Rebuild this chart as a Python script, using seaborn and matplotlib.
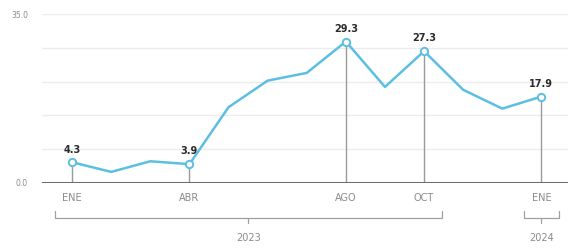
import pandas as pd
import matplotlib.pyplot as plt
import seaborn as sns

# Monthly values, ENE 2023 .. ENE 2024
months = ["ENE", "FEB", "MAR", "ABR", "MAY", "JUN", "JUL", "AGO", "SEP", "OCT", "NOV", "DIC", "ENE"]
values = [4.3, 2.3, 4.5, 3.9, 15.7, 21.2, 22.8, 29.3, 19.9, 27.3, 19.3, 15.4, 17.9]
labeled_idx = [0, 3, 7, 9, 12]
years = ["2023", "2024"]

df = pd.DataFrame({"idx": range(len(values)), "value": values})

sns.set_style("white")
plt.rcParams['font.family'] = ['DejaVu Sans']

fig = plt.figure(figsize=(5.79, 2.48), dpi=100)
ax = fig.add_axes([42 / 579, 1 - 183 / 248, (568 - 42) / 579, (183 - 14) / 248])

line_color = "#5cbfe2"
gray = "#8a8a8a"

# gridlines
for g in [7, 14, 21, 28, 35]:
    ax.axhline(g, color="#ececec", lw=1, zorder=0)

# vertical drop lines for labeled points
lab = df.iloc[labeled_idx]
ax.vlines(lab["idx"], 0, lab["value"], color="#9a9a9a", lw=1, zorder=1)

sns.lineplot(data=df, x="idx", y="value", ax=ax, color=line_color, lw=1.8, zorder=3)
ax.scatter(lab["idx"], lab["value"], s=28, facecolor="white", edgecolor=line_color,
           linewidth=1.4, zorder=4, clip_on=False)

for i, v in zip(lab["idx"], lab["value"]):
    ax.text(i, v + 1.6, f"{v:.1f}", ha="center", va="bottom", fontsize=7,
            fontweight="bold", color="#2b2b2b", zorder=5)

# baseline
ax.axhline(0, color="#6e6e6e", lw=2.2, zorder=2)

ax.set_xlim(-0.77, 12.68)
ax.set_ylim(0, 35)
ax.set_yticks([0, 35])
ax.set_yticklabels(["0.0", "35.0"], fontsize=5.5, color=gray)
ax.set_xticks(lab["idx"])
ax.set_xticklabels([months[i] for i in labeled_idx], fontsize=7, color=gray)
ax.tick_params(axis="both", length=0)
ax.tick_params(axis="x", pad=7)
ax.tick_params(axis="y", pad=10)
ax.set_xlabel("")
ax.set_ylabel("")
for s in ax.spines.values():
    s.set_visible(False)

# year brackets below the month labels
trans = ax.get_xaxis_transform()
def bracket(x0, x1, label):
    yb = -0.205
    ax.plot([x0, x0, x1, x1], [yb + 0.04, yb, yb, yb + 0.04], color="#a0a0a0",
            lw=0.9, transform=trans, clip_on=False)
    xm = (x0 + x1) / 2
    ax.plot([xm, xm], [yb, yb - 0.03], color="#a0a0a0", lw=0.9,
            transform=trans, clip_on=False)
    ax.text(xm, yb - 0.09, label, ha="center", va="top", fontsize=7, color=gray,
            transform=trans)

bracket(-0.43, 9.45, years[0])
bracket(11.55, 12.45, years[1])

fig.savefig("out.png", dpi=100)
